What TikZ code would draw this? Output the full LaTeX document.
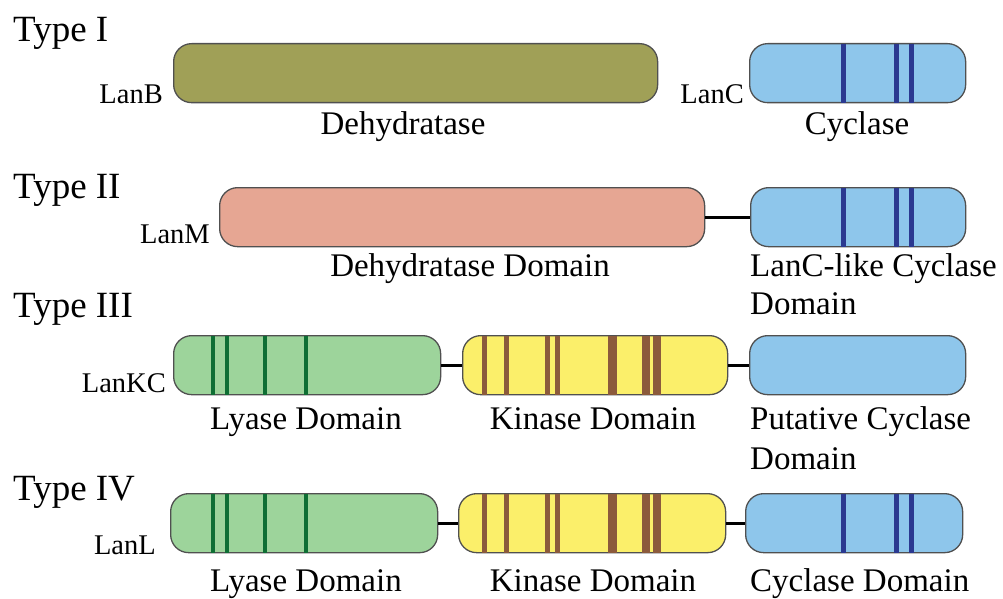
\documentclass[tikz,border=0pt]{standalone}
\usepackage{fontspec}
\setmainfont{Liberation Serif}
\usetikzlibrary{calc}
\definecolor{olivebar}{HTML}{A0A057}
\definecolor{salmonbar}{HTML}{E6A693}
\definecolor{bluebar}{HTML}{8EC6EB}
\definecolor{greenbar}{HTML}{9DD49B}
\definecolor{yellowbar}{HTML}{FBEF6A}
\definecolor{stripeblue}{HTML}{2B3990}
\definecolor{stripegreen}{HTML}{0E6E34}
\definecolor{stripebrown}{HTML}{8B5A3C}
\definecolor{barline}{HTML}{505050}
\tikzset{
  bar/.style={draw=barline, line width=1.3pt, rounded corners=18pt, inner sep=0pt,
    minimum height=59pt, anchor=north west},
  conn/.style={line width=3pt, black},
  typelbl/.style={font=\fontsize{37}{40}\selectfont, inner sep=0pt, anchor=base west},
  lanlbl/.style={font=\fontsize{28.5}{30}\selectfont, inner sep=0pt, anchor=base east},
  lbl/.style={font=\fontsize{33}{39}\selectfont, inner sep=0pt, anchor=base},
  lblw/.style={font=\fontsize{33}{39}\selectfont, inner sep=0pt, anchor=base west},
}
\newcommand\barstripes[3]{%
  \foreach \xx/\ww in {#3}
    \fill[#2] let \p1=(#1.north), \p2=(#1.south) in
      (\xx pt-\ww pt/2, \y1-0.7pt) rectangle (\xx pt+\ww pt/2, \y2+0.7pt);}
\newcommand\bluestripes[1]{\barstripes{#1}{stripeblue}{843/5,896/5,911/5}}
\newcommand\greenstripes[1]{\barstripes{#1}{stripegreen}{213/4.4,227/4.4,265/4.4,306/4.4}}
\newcommand\brownstripes[1]{\barstripes{#1}{stripebrown}{484/5,506/5,547/5,557/5,612/9,646/8,657/8}}
\begin{document}
\begin{tikzpicture}[x=1pt,y=-1pt]
\useasboundingbox (0,0) rectangle (1003,599);
% Type I
\node[typelbl] (t1) at (13,42) {Type I};
\node[bar, fill=olivebar, minimum width=484pt] (lanb) at (173,43) {};
\node[bar, fill=bluebar, minimum width=216pt] (lanc) at (749,43) {};
\bluestripes{lanc}
\node[lanlbl] (lanbl) at (163,104) {LanB};
\node[lanlbl] (lancl) at (744,104) {LanC};
\node[lbl] (d1) at (403,135) {Dehydratase};
\node[lbl] (c1) at (857,135) {Cyclase};
% Type II
\node[typelbl] (t2) at (13,198) {Type II};
\node[bar, fill=salmonbar, minimum width=485pt] (lanm) at (219,187) {};
\node[bar, fill=bluebar, minimum width=215pt] (lanc2) at (750,187) {};
\bluestripes{lanc2}
\draw[conn] (lanm.east) -- (lanc2.west);
\node[lanlbl] (lanml) at (210,243) {LanM};
\node[lbl] (d2) at (470,276) {Dehydratase Domain};
\node[lblw] (c2a) at (750,276) {LanC-like Cyclase};
\node[lblw] (c2b) at (750,314) {Domain};
% Type III
\node[typelbl] (t3) at (13,317) {Type III};
\node[bar, fill=greenbar, minimum width=267pt] (ly3) at (173,335) {};
\greenstripes{ly3}
\node[bar, fill=yellowbar, minimum width=265pt] (ki3) at (462,335) {};
\brownstripes{ki3}
\node[bar, fill=bluebar, minimum width=216pt] (cy3) at (749,335) {};
\draw[conn] (ly3.east) -- (ki3.west);
\draw[conn] (ki3.east) -- (cy3.west);
\node[lanlbl] (lankcl) at (166,392) {LanKC};
\node[lbl] (l3) at (306,429) {Lyase Domain};
\node[lbl] (k3) at (593,429) {Kinase Domain};
\node[lblw] (p3a) at (750,429) {Putative Cyclase};
\node[lblw] (p3b) at (750,469) {Domain};
% Type IV
\node[typelbl] (t4) at (13,500) {Type IV};
\node[bar, fill=greenbar, minimum width=267pt] (ly4) at (170,493) {};
\greenstripes{ly4}
\node[bar, fill=yellowbar, minimum width=267pt] (ki4) at (458,493) {};
\brownstripes{ki4}
\node[bar, fill=bluebar, minimum width=217pt] (cy4) at (745,493) {};
\bluestripes{cy4}
\draw[conn] (ly4.east) -- (ki4.west);
\draw[conn] (ki4.east) -- (cy4.west);
\node[lanlbl] (lanll) at (156,554) {LanL};
\node[lbl] (l4) at (306,591) {Lyase Domain};
\node[lbl] (k4) at (593,591) {Kinase Domain};
\node[lblw] (c4) at (750,591) {Cyclase Domain};
\end{tikzpicture}
\end{document}
